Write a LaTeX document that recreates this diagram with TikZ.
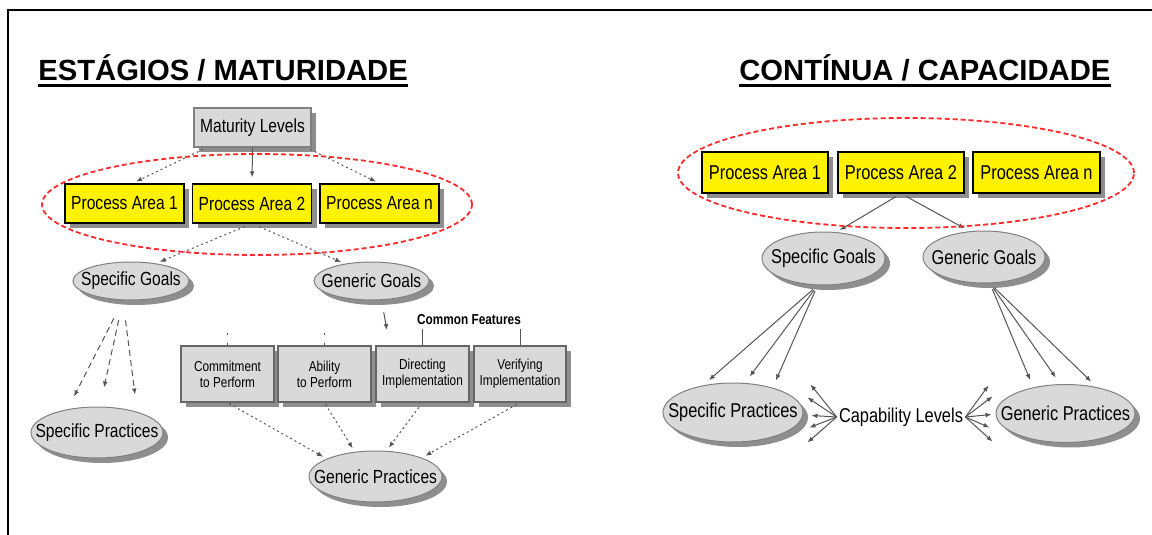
\documentclass[tikz,border=0pt]{standalone}
\usepackage{fontspec}
\setmainfont{Liberation Sans}
\newfontfamily\narrowfont[FakeStretch=0.82]{Liberation Sans}
\usetikzlibrary{shapes.geometric,shadows,arrows.meta}

\definecolor{boxgray}{HTML}{D9D9D9}
\definecolor{shadegray}{HTML}{8E8E8E}
\definecolor{linegray}{HTML}{555555}
\definecolor{ringred}{HTML}{FF2A2A}

\newcommand{\nodefont}{\narrowfont\fontsize{9.5}{11}\selectfont}
\newcommand{\rightfont}{\narrowfont\fontsize{10}{12}\selectfont}
\newcommand{\smallfont}{\narrowfont\fontsize{7.2}{8}\selectfont}
\newcommand{\headfont}{\bfseries\fontsize{14.6}{17}\selectfont}

\tikzset{
  boxshadow/.style={drop shadow={shadow xshift=2.5pt,shadow yshift=-2.5pt,fill=shadegray,opacity=1}},
  areabox/.style={shape=rectangle,draw=black,fill=yellow,line width=0.6pt,inner sep=0pt,minimum height=19.5pt,boxshadow},
  levelbox/.style={shape=rectangle,draw=gray,fill=boxgray,line width=0.6pt,inner sep=0pt,boxshadow},
  feature/.style={shape=rectangle,draw=gray!80!black,fill=boxgray,line width=0.6pt,inner sep=0pt,minimum width=46.5pt,minimum height=28pt,align=center,boxshadow,font=\smallfont},
  goal/.style={shape=ellipse,draw=gray,fill=boxgray,line width=0.5pt,inner sep=0pt,boxshadow},
  ring/.style={shape=ellipse,draw=ringred,dash pattern=on 2.5pt off 1.5pt,line width=0.9pt,inner sep=0pt},
  heading/.style={anchor=base west,inner sep=0pt,font=\headfont},
  link/.style={draw=linegray,line width=0.5pt,-{Latex[length=3pt,width=2.4pt]}},
  dotlink/.style={link,dash pattern=on 1pt off 1.5pt},
  dashlink/.style={link,dash pattern=on 3pt off 2pt},
  every label/.style={font=\nodefont},
}

\begin{document}
\begin{tikzpicture}[x=0.5pt,y=-0.5pt]
    \useasboundingbox (0,0) rectangle (1152,535);
    \draw[line width=1pt] (1152,10) -- (8,10) -- (8,535);

    % left: staged representation
    \node[heading] (h1) at (38,81) {ESTÁGIOS / MATURIDADE};
    \draw[line width=1.5pt] ([yshift=-2.2pt]h1.base west) -- ([yshift=-2.2pt]h1.base east);

    \node[levelbox,minimum width=58.5pt,minimum height=19.5pt,font=\nodefont] (ml) at (252.5,127.5) {Maturity Levels};
    \node[areabox,minimum width=59.5pt,font=\nodefont] (pa1) at (124.5,203.5) {Process Area 1};
    \node[areabox,minimum width=59.5pt,font=\nodefont] (pa2) at (252,203.5) {Process Area 2};
    \node[areabox,minimum width=59.5pt,font=\nodefont] (pan) at (379.5,203.5) {Process Area n};

    \node[goal,minimum width=58pt,minimum height=19pt,label=center:Specific Goals] (sg) at (131,281) {};
    \node[goal,minimum width=57.5pt,minimum height=19pt,label=center:Generic Goals] (gg) at (371.5,281) {};
    \node[goal,minimum width=66pt,minimum height=25.5pt,label=center:Specific Practices] (sp) at (97,432.5) {};
    \node[goal,minimum width=66.5pt,minimum height=25.5pt,label=center:Generic Practices] (gp) at (375.5,476.5) {};

    \node[feature] (cmt) at (227.5,374) {Commitment\\to Perform};
    \node[feature] (abl) at (324.5,374) {Ability\\to Perform};
    \node[feature] (dir) at (422.5,374) {Directing\\Implementation};
    \node[feature,minimum width=46pt] (ver) at (520,374) {Verifying\\Implementation};
    \node[inner sep=0pt,font=\smallfont\bfseries] (cf) at (469,320) {Common Features};
    \coordinate (cfin) at (387,330);

    \draw[dotlink,shorten <=2pt,shorten >=2pt] ([xshift=-23pt]ml.south) -- ([xshift=4pt]pa1.north);
    \draw[link,shorten >=3pt] (ml.south) -- (pa2.north);
    \draw[dotlink,shorten <=2pt,shorten >=2pt] ([xshift=27pt]ml.south) -- (pan.north);
    \draw[dotlink,shorten <=4pt,shorten >=2pt] (pa2.south) -- (sg.35);
    \draw[dotlink,shorten <=4pt,shorten >=2pt] (pa2.south) -- (gg.147);
    \draw[dashlink,shorten <=10pt] ([xshift=-4pt]sg.south) -- ([shift={(-23,-10)}]sp.north);
    \draw[dashlink,shorten <=10pt] ([xshift=-4pt]sg.south) -- ([shift={(7,-19)}]sp.north);
    \draw[dashlink,shorten <=10pt] ([xshift=-4pt]sg.south) -- ([shift={(38,-12)}]sp.north);
    \draw[link,shorten <=6pt] ([xshift=5pt]gg.south) -- (cfin);
    \draw[draw=linegray,dash pattern=on 1pt off 4pt] (cmt.north) -- ++(0,-16);
    \draw[draw=linegray,dash pattern=on 1pt off 4pt] (abl.north) -- ++(0,-16);
    \draw[draw=linegray,line width=0.5pt] (dir.north) -- ++(0,-16);
    \draw[draw=linegray,line width=0.5pt] (ver.north) -- ++(0,-16);
    \draw[dotlink,shorten <=1pt,shorten >=2pt] (cmt.south) -- (gp.160);
    \draw[dotlink,shorten <=1pt,shorten >=2pt] (abl.south) -- (gp.130);
    \draw[dotlink,shorten <=3pt,shorten >=2pt] (dir.south) -- (gp.67);
    \draw[dotlink,shorten <=2pt,shorten >=2pt] (ver.south) -- (gp.22);

    \node[ring,minimum width=215pt,minimum height=50.5pt] (ring1) at (257,204.5) {};

    % right: continuous representation
    \node[heading] (h2) at (739,81) {CONTÍNUA / CAPACIDADE};
    \draw[line width=1.5pt] ([yshift=-2.2pt]h2.base west) -- ([yshift=-2.2pt]h2.base east);

    \node[areabox,minimum width=63pt,minimum height=20.5pt,font=\rightfont] (rpa1) at (765,172.5) {Process Area 1};
    \node[areabox,minimum width=63pt,minimum height=20.5pt,font=\rightfont] (rpa2) at (901,172.5) {Process Area 2};
    \node[areabox,minimum width=63.5pt,minimum height=20.5pt,font=\rightfont] (rpan) at (1036.5,172.5) {Process Area n};

    \node[goal,minimum width=61.5pt,minimum height=26.5pt,label={[font=\rightfont]center:Specific Goals}] (rsg) at (823.5,258.5) {};
    \node[goal,minimum width=61pt,minimum height=26pt,label={[font=\rightfont]center:Generic Goals}] (rgg) at (984,257) {};
    \node[goal,minimum width=70pt,minimum height=29.5pt,label={[font=\rightfont]center:Specific Practices}] (rsp) at (733,412.5) {};
    \node[goal,minimum width=69.5pt,minimum height=29pt,label={[font=\rightfont]center:Generic Practices}] (rgp) at (1065.5,413.5) {};
    \node[inner sep=1pt,font=\rightfont] (cap) at (901,417) {Capability Levels};

    \draw[link,shorten <=3pt,shorten >=2pt] (rpa2.south) -- (rsg.64);
    \draw[link,shorten <=3pt,shorten >=3pt] (rpa2.south) -- (rgg.119);
    \draw[link,shorten <=3pt,shorten >=4pt] ([xshift=-3pt]rsg.south) -- (rsp.138);
    \draw[link,shorten <=3pt,shorten >=4pt] ([xshift=-3pt]rsg.south) -- (rsp.68);
    \draw[link,shorten <=3pt,shorten >=4pt] ([xshift=-3pt]rsg.south) -- (rsp.32);
    \draw[link,shorten <=3pt,shorten >=4pt] ([xshift=3pt]rgg.south) -- (rgp.141);
    \draw[link,shorten <=3pt,shorten >=4pt] ([xshift=3pt]rgg.south) -- (rgp.100);
    \draw[link,shorten <=3pt,shorten >=4pt] ([xshift=3pt]rgg.south) -- (rgp.40);

    \draw[link] (cap.west) -- ([shift={(7,-28)}]rsp.east);
    \draw[link] (cap.west) -- ([shift={(4,-15)}]rsp.east);
    \draw[link] (cap.west) -- ([shift={(8,3)}]rsp.east);
    \draw[link] (cap.west) -- ([shift={(6,15)}]rsp.east);
    \draw[link] (cap.west) -- ([shift={(4,30)}]rsp.east);
    \draw[link] (cap.east) -- ([shift={(-7,-28)}]rgp.west);
    \draw[link] (cap.east) -- ([shift={(-3,-17)}]rgp.west);
    \draw[link] (cap.east) -- ([shift={(-4,1)}]rgp.west);
    \draw[link] (cap.east) -- ([shift={(-6,14)}]rgp.west);
    \draw[link] (cap.east) -- ([shift={(-3,28)}]rgp.west);

    \node[ring,minimum width=228pt,minimum height=55pt] (ring2) at (906,173) {};
\end{tikzpicture}
\end{document}
